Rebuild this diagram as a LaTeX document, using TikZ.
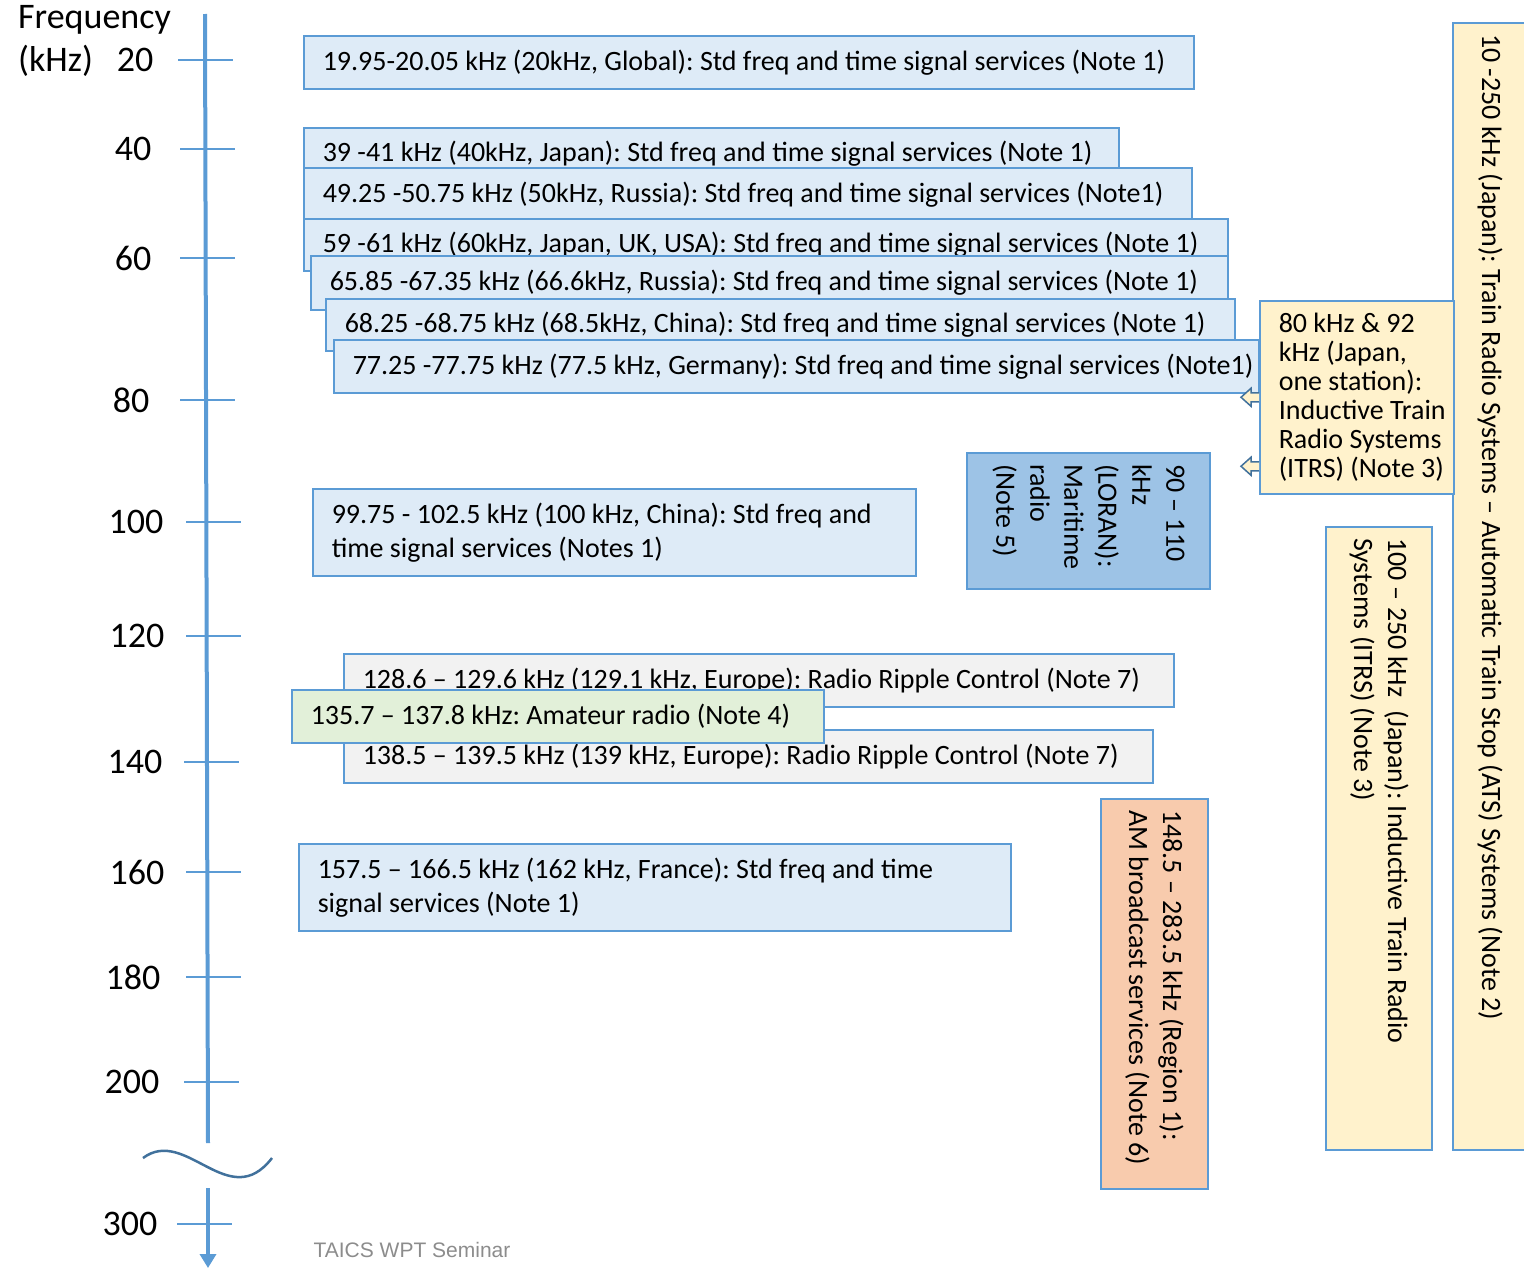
\documentclass[tikz,border=0pt]{standalone}
\usepackage{fontspec}
\setmainfont{Carlito}
\newfontfamily\footfont{Liberation Sans}
\usetikzlibrary{arrows.meta}
\definecolor{axisblue}{HTML}{5B9BD5}
\definecolor{bandline}{HTML}{5B9BD5}
\definecolor{bandblue}{HTML}{DEEBF7}
\definecolor{loranblue}{HTML}{9DC3E6}
\definecolor{ripplegrey}{HTML}{F2F2F2}
\definecolor{hamgreen}{HTML}{E2F0D9}
\definecolor{amsalmon}{HTML}{F8CBAD}
\definecolor{traincream}{HTML}{FFF2CC}
\definecolor{darkblue}{HTML}{41719C}
\definecolor{footgrey}{HTML}{8C8C8C}
\frenchspacing
\hyphenpenalty=10000
\exhyphenpenalty=10000
\begin{document}
\begin{tikzpicture}[x=1pt, y=-1pt,
    band/.style={draw=bandline, line width=1.5pt, fill=bandblue, anchor=north west,
      inner xsep=19pt, inner ysep=0pt, align=flush left, font=\fontsize{28}{34}\selectfont,
      execute at begin node={\spaceskip=0pt\xspaceskip=0pt}},
    vband/.style={band, anchor=center, rotate=-90, inner xsep=11pt},
    tickline/.style={draw=axisblue, line width=1.5pt},
    axis/.style={draw=axisblue, line width=4pt},
    freqlabel/.style={inner sep=0pt, font=\fontsize{36}{43}\selectfont}]

    \useasboundingbox (0,0) rectangle (1524,1269);

    % Axis
    \draw[axis] (205,14) -- (208,1143);
    \draw[axis, -{Triangle[width=16pt, length=14pt]}] (208,1188) -- (208,1268);
    \draw[darkblue, line width=2.5pt] (143,1158) .. controls (186,1126) and (229,1214) .. (272,1158);
    \node[freqlabel, anchor=west, align=left] (title) at (18,41) {Frequency\\(kHz)};
    \foreach \y/\f/\lx/\tx in {60/20/135/178, 149/40/133/180, 258/60/133/180,
        400/80/131/180, 522/100/136/186, 636/120/137/186, 762/140/135/184,
        872/160/137/186, 977/180/133/186, 1082/200/132/184, 1224/300/130/177}{
      \draw[tickline] (\tx,\y) -- ++(55,0);
      \node[freqlabel] (t\f) at (\lx,\y) {\f};
    }

    % Time signal bands
    \node[band, text width=852pt, minimum height=53pt] (b20) at (303,35)
        {19.95-20.05 kHz (20kHz, Global): Std freq and time signal services (Note 1)};
    \node[band, text width=777pt, minimum height=52pt] (b40) at (303,127)
        {39 -41 kHz (40kHz, Japan): Std freq and time signal services (Note 1)};
    \node[band, text width=850pt, minimum height=54pt] (b50) at (303,167)
        {49.25 -50.75 kHz (50kHz, Russia): Std freq and time signal services (Note1)};
    \node[band, text width=886pt, minimum height=52pt] (b60) at (303,218)
        {59 -61 kHz (60kHz, Japan, UK, USA): Std freq and time signal services (Note 1)};
    \node[band, text width=879pt, minimum height=54pt] (b66) at (310,255)
        {65.85 -67.35 kHz (66.6kHz, Russia): Std freq and time signal services (Note 1)};
    \node[band, text width=871pt, minimum height=52pt] (b68) at (325,298)
        {68.25 -68.75 kHz (68.5kHz, China): Std freq and time signal services (Note 1)};
    \node[band, text width=887pt, minimum height=53pt] (b77) at (333,339)
        {\mbox{77.25 -77.75 kHz (77.5 kHz, Germany): Std freq and time signal services (Note1)}};

    % Train radio
    \node[vband, fill=traincream, text width=1105pt, minimum width=1127pt, minimum height=74pt] (ats) at (1490,586.5)
        {10 -250 kHz (Japan): Train Radio Systems – Automatic Train Stop (ATS) Systems (Note 2)};
    \node[band, fill=traincream, text width=156pt, minimum height=193pt, font=\fontsize{28}{29}\selectfont] (itrs80) at (1259,300)
        {80 kHz \& 92\\kHz (Japan,\\one station):\\\mbox{Inductive Train}\\\mbox{Radio Systems}\\\mbox{(ITRS) (Note 3)}};
    \foreach \dy in {0,69}
      \filldraw[fill=traincream, draw=darkblue, line width=1.5pt]
        ([yshift=-\dy pt]itrs80.west) ++(0,-4.5) -- ++(-8,0) -- ++(0,-4.5)
        -- ++(-10,9) -- ++(10,9) -- ++(0,-4.5) -- ++(8,0);

    \node[band, text width=565pt, minimum height=87pt] (b100) at (312,488)
        {99.75 - 102.5 kHz (100 kHz, China): Std freq and\\time signal services (Notes 1)};
    \node[vband, fill=loranblue, text width=114pt, minimum width=136pt, minimum height=243pt] (loran) at (1088.5,521)
        {90 – 110\\kHz\\(LORAN):\\Maritime\\radio\\(Note 5)};

    % Ripple control and amateur
    \node[band, fill=ripplegrey, text width=792pt, minimum height=53pt] (b129) at (343,653)
        {128.6 – 129.6 kHz (129.1 kHz, Europe): Radio Ripple Control (Note 7)};
    \node[band, fill=ripplegrey, text width=771pt, minimum height=53pt] (b139) at (343,729)
        {138.5 – 139.5 kHz (139 kHz, Europe): Radio Ripple Control (Note 7)};
    \node[band, fill=hamgreen, text width=494pt, minimum height=53pt] (ham) at (291,689)
        {135.7 – 137.8 kHz: Amateur radio (Note 4)};

    \node[band, text width=674pt, minimum height=87pt] (b162) at (298,843)
        {157.5 – 166.5 kHz (162 kHz, France): Std freq and time\\signal services (Note 1)};
    \node[vband, fill=amsalmon, text width=368pt, minimum width=390pt, minimum height=107pt] (am) at (1154.5,994)
        {148.5 – 283.5 kHz (Region 1):\\AM broadcast services (Note 6)};
    \node[vband, fill=traincream, text width=601pt, minimum width=623pt, minimum height=106pt] (itrs) at (1379,838.5)
        {100 – 250 kHz~~(Japan): Inductive Train Radio\\Systems (ITRS) (Note 3)};

    \node[font=\footfont\fontsize{21}{25}\selectfont, text=footgrey] (footer) at (412,1250) {TAICS WPT Seminar};
\end{tikzpicture}
\end{document}
